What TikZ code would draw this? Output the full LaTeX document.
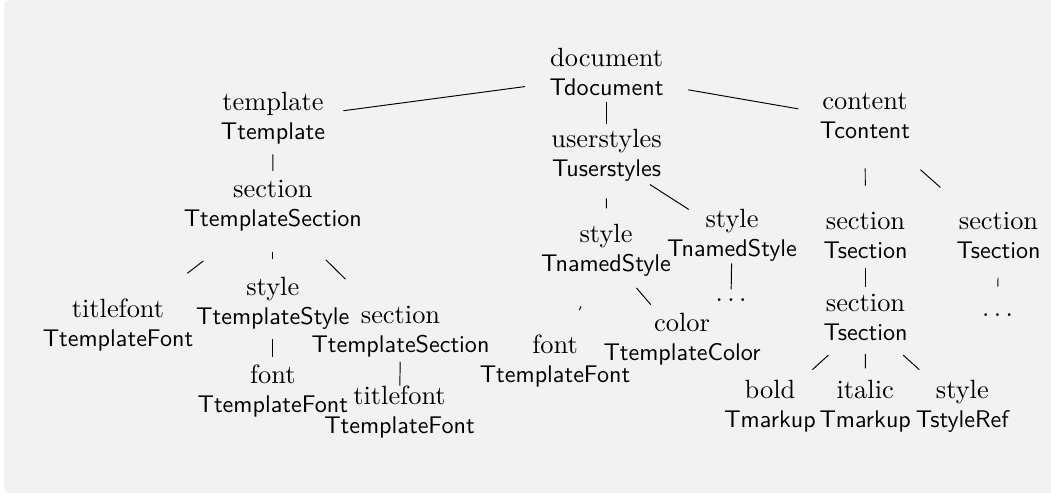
\documentclass[tikz,border=0pt]{standalone}
\usetikzlibrary{calc}
\tikzset{
  tn/.style={align=center, inner sep=0pt},
  lnk/.style={draw=black, line width=0.4pt},
}
\newcommand{\mystrut}{\rule[-3.5pt]{0pt}{12pt}}
\newcommand{\rmline}{\fontsize{10.95pt}{12pt}\selectfont\rmfamily}
\newcommand{\tlab}[2]{\rmline\mystrut #1\\\fontsize{10pt}{12pt}\selectfont\sffamily\mystrut #2}
\renewcommand{\mystrut}{\rule[-3.5pt]{0pt}{8.5pt}}
\begin{document}
\begin{tikzpicture}[x=0.4149pt, y=-0.4149pt]
\useasboundingbox (0,0) rectangle (1051,495);
\fill[black!5, rounded corners=2pt] (4,0) rectangle (1080,493);

% nodes
\node[tn] (doc)     at (606.6,75.7)  {\tlab{document}{Tdocument}};
\node[tn] (tmpl)    at (273,120.1)   {\tlab{template}{Ttemplate}};
\node[tn] (ust)     at (606.6,156.7) {\tlab{userstyles}{Tuserstyles}};
\node[tn] (cont)    at (865,120.4)   {\tlab{content}{Tcontent}};
\node[tn] (tsec)    at (272.8,207.4) {\tlab{section}{TtemplateSection}};
\node[tn] (tfa)     at (118,326.7)   {\tlab{titlefont}{TtemplateFont}};
\node[tn] (tsty)    at (272.8,304.9) {\tlab{style}{TtemplateStyle}};
\node[tn] (tsecb)   at (400.5,333.6) {\tlab{section}{TtemplateSection}};
\node[tn] (tfb)     at (272.8,392.6) {\tlab{font}{TtemplateFont}};
\node[tn] (tfc)     at (399.5,414)   {\tlab{titlefont}{TtemplateFont}};
\node[tn] (nsl)     at (606,252.3)   {\tlab{style}{TnamedStyle}};
\node[tn] (nsr)     at (732,237.2)   {\tlab{style}{TnamedStyle}};
\node[tn] (fnt)     at (555,362.6)   {\tlab{font}{TtemplateFont}};
\node[tn] (col)     at (682,341.2)   {\tlab{color}{TtemplateColor}};
\node[tn] (dta)     at (731,299.8)   {\rmline$\ldots$};
\node[tn] (seca)    at (865.5,239.1) {\tlab{section}{Tsection}};
\node[tn] (secb)    at (998.5,239.1) {\tlab{section}{Tsection}};
\node[tn] (secc)    at (865.5,321.2) {\tlab{section}{Tsection}};
\node[tn] (dtb)     at (997.5,314.7) {\rmline$\ldots$};
\node[tn] (bld)     at (770,408.4)   {\tlab{bold}{Tmarkup}};
\node[tn] (itl)     at (865.2,408.4) {\tlab{italic}{Tmarkup}};
\node[tn] (sref)    at (962.3,408.4) {\tlab{style}{TstyleRef}};

% connectors
\draw[lnk] ($(doc)!0.2446!(tmpl)$) -- ($(doc)!0.789!(tmpl)$);
\draw[lnk] ($(doc)!0.328!(ust)$) -- ($(doc)!0.6!(ust)$);
\draw[lnk] ($(doc)!0.316!(cont)$) -- ($(doc)!0.742!(cont)$);
\draw[lnk] ($(tmpl)!0.392!(tsec)$) -- ($(tmpl)!0.583!(tsec)$);
\draw[lnk] ($(tsec)!0.449!(tfa)$) -- ($(tsec)!0.552!(tfa)$);
\draw[lnk] ($(tsec)!0.454!(tsty)$) -- ($(tsec)!0.532!(tsty)$);
\draw[lnk] ($(tsec)!0.415!(tsecb)$) -- ($(tsec)!0.569!(tsecb)$);
\draw[lnk] ($(tsty)!0.392!(tfb)$) -- ($(tsty)!0.591!(tfb)$);
\draw[lnk] ($(tsecb)!0.35!(tfc)$) -- ($(tsecb)!0.648!(tfc)$);
\draw[lnk] ($(ust)!0.435!(nsl)$) -- ($(ust)!0.54!(nsl)$);
\draw[lnk] ($(ust)!0.346!(nsr)$) -- ($(ust)!0.655!(nsr)$);
\draw[lnk] ($(nsl)!0.49!(fnt)$) -- ($(nsl)!0.524!(fnt)$);
\draw[lnk] ($(nsl)!0.4!(col)$) -- ($(nsl)!0.588!(col)$);
\draw[lnk] ($(nsr)!0.417!(dta)$) -- ($(nsr)!0.832!(dta)$);
\draw[lnk] ($(cont)!0.404!(seca)$) -- ($(cont)!0.55!(seca)$);
\draw[lnk] ($(cont)!0.415!(secb)$) -- ($(cont)!0.565!(secb)$);
\draw[lnk] ($(seca)!0.356!(secc)$) -- ($(seca)!0.58!(secc)$);
\draw[lnk] ($(secb)!0.511!(dtb)$) -- ($(secb)!0.63!(dtb)$);
\draw[lnk] ($(secc)!0.39!(bld)$) -- ($(secc)!0.555!(bld)$);
\draw[lnk] ($(secc)!0.376!(itl)$) -- ($(secc)!0.54!(itl)$);
\draw[lnk] ($(secc)!0.39!(sref)$) -- ($(secc)!0.555!(sref)$);
\end{tikzpicture}
\end{document}
